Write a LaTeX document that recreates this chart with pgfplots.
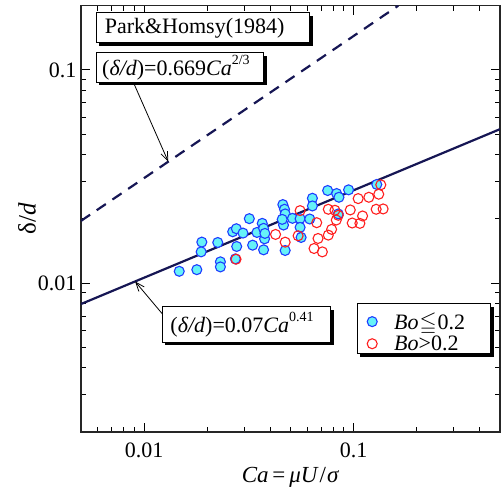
\documentclass[border=0pt]{standalone}
\usepackage{amssymb}
\usepackage{fontspec}
\setmainfont{Liberation Serif}
\usepackage{pgfplots}
\pgfplotsset{compat=1.18}
\usetikzlibrary{shadows,arrows.meta}

\definecolor{navyline}{RGB}{22,22,84}
\definecolor{cyanfill}{RGB}{102,242,248}
\definecolor{blueedge}{RGB}{30,60,255}
\definecolor{rededge}{RGB}{255,30,30}

\newcommand{\bigfont}{\fontsize{22bp}{26bp}\selectfont}
\newcommand{\labfont}{\fontsize{23bp}{27bp}\selectfont}
\newcommand{\supfont}{\fontsize{14bp}{16bp}\selectfont}

\tikzset{
  shadowbox/.style={draw=black, line width=1bp, fill=white,
    drop shadow={shadow xshift=3.2bp, shadow yshift=-3.2bp, fill=black, opacity=1},
    font=\bigfont, align=left, inner ysep=2bp}
}

\begin{document}
\begin{tikzpicture}
\begin{axis}[
  scale only axis, width=419bp, height=426.3bp,
  xmode=log, ymode=log,
  xmin=0.005, xmax=0.5, ymin=0.002, ymax=0.2,
  xtick={0.01,0.1}, xticklabels={0.01,0.1},
  ytick={0.01,0.1}, yticklabels={0.01,0.1},
  minor xtick={0.006,0.007,0.008,0.009,0.02,0.03,0.04,0.05,0.06,0.07,0.08,0.09,0.2,0.3,0.4},
  minor ytick={0.003,0.004,0.005,0.006,0.007,0.008,0.009,0.02,0.03,0.04,0.05,0.06,0.07,0.08,0.09},
  tick align=inside, major tick length=9bp, minor tick length=5bp,
  every tick/.style={line width=1bp, black},
  axis line style={line width=1.4bp, black!85},
  every tick label/.append style={font=\bigfont},
  xticklabel style={yshift=-7bp},
  yticklabel style={xshift=-1bp},
  xlabel={\textit{Ca}\,=\,\textit{μU}\kern1pt/\kern1pt\textit{σ}},
  ylabel={δ/\textit{d}},
  xlabel style={font=\labfont, at={(axis description cs:0.5,-0.106)}, anchor=center},
  ylabel style={font=\fontsize{25bp}{29bp}\selectfont, at={(axis description cs:-0.129,0.5)}, anchor=center},
  legend image code/.code={\draw[#1] plot coordinates {(0bp,0bp)};},
  legend style={at={(rel axis cs:0.6826,0.2853)}, anchor=north west,
    draw=none, fill=none, font=\bigfont, inner sep=0pt, row sep=1bp,
    column sep=0bp,
    /tikz/every odd column/.append style={column sep=15bp}},
  legend cell align=left,
]
% fitted correlation and Park & Homsy prediction
\addplot[navyline, line width=2.2bp, forget plot] coordinates {(0.005,0.00797) (0.5,0.0527)};
\addplot[navyline, line width=2.2bp, dash pattern=on 11bp off 8bp, forget plot]
  coordinates {(0.005,0.01957) (0.1635,0.2)};

% legend frame
\node[shadowbox, anchor=north west, minimum width=133.3bp, minimum height=50bp, inner sep=0pt]
  at (rel axis cs:0.658,0.3026) {};

% Bo <= 0.2
\addplot[only marks, mark=*, mark size=5bp,
  mark options={draw=blueedge, fill=cyanfill, line width=1.1bp}] coordinates {
(0.01472,0.01135) (0.01786,0.01155) (0.01887,0.01556) (0.01873,0.01400)
(0.02248,0.01549) (0.02314,0.01257) (0.02314,0.01190) (0.02649,0.01740)
(0.02758,0.01798) (0.02768,0.01484) (0.02728,0.01298) (0.02967,0.01715)
(0.03180,0.02004) (0.03298,0.01505) (0.03458,0.01727) (0.03666,0.01905)
(0.03720,0.01805) (0.03761,0.01612) (0.03720,0.01431) (0.03775,0.01709)
(0.04597,0.02333) (0.04682,0.02218) (0.04716,0.02109) (0.04631,0.01871)
(0.04564,0.01989) (0.05110,0.02011) (0.04716,0.01421) (0.05557,0.02004)
(0.05557,0.01824) (0.05618,0.01636) (0.06178,0.01997) (0.06361,0.02498)
(0.06361,0.02299) (0.07522,0.02716) (0.08302,0.02629) (0.08516,0.02525)
(0.09467,0.02736) (0.08453,0.02109) (0.1291,0.02900)
};
\addlegendentry{\textit{Bo}\kern1bp$\leqq$\kern1bp0.2}

% Bo > 0.2
\addplot[only marks, mark=o, mark size=5bp,
  mark options={draw=rededge, line width=1.1bp}] coordinates {
(0.02748,0.01293) (0.04243,0.01690) (0.04716,0.01555) (0.05437,0.01666)
(0.05557,0.02186) (0.06670,0.01919) (0.06478,0.01452) (0.06768,0.01618)
(0.07096,0.01400) (0.07577,0.01678) (0.07857,0.01785) (0.07577,0.02218)
(0.08149,0.02194) (0.08270,0.01975) (0.08453,0.02078) (0.09643,0.02202)
(0.09855,0.01912) (0.1052,0.02489) (0.1072,0.01905) (0.1104,0.02063)
(0.1183,0.02525) (0.1282,0.02218) (0.1319,0.02610) (0.1384,0.02226)
(0.1349,0.02889)
};
\addlegendentry{\textit{Bo}>0.2}

% annotation boxes
\node[shadowbox, anchor=north west, minimum height=30bp, inner xsep=8.6bp, text width=196.4bp]
  at (rel axis cs:0.0351,0.9845) {Park\&Homsy(1984)};
\node[shadowbox, anchor=north west, minimum height=29.4bp, inner xsep=6bp, text width=155.6bp]
  at (rel axis cs:0.0351,0.8907) {(\textit{δ/d})=0.669\textit{Ca}\raisebox{1.1ex}{\supfont 2/3}};
\node[shadowbox, anchor=north west, minimum height=35.7bp, inner xsep=8.3bp, text width=151.7bp]
  at (rel axis cs:0.1926,0.2956) {(\textit{δ/d})=0.07\textit{Ca}\raisebox{1.1ex}{\supfont 0.41}};

% arrows from the boxes to the curves
\draw[line width=0.8bp, -{Straight Barb[length=9bp,width=7bp]}]
  (axis cs:0.00890,0.0872) -- (axis cs:0.01305,0.03708);
\draw[line width=0.8bp, -{Straight Barb[length=9bp,width=7bp]}]
  (axis cs:0.01222,0.00717) -- (axis cs:0.00906,0.01017);
\end{axis}
\pgfresetboundingbox
\useasboundingbox ([shift={(-81bp,-58bp)}]current axis.south west)
  rectangle ([shift={(1bp,5.7bp)}]current axis.north east);
\end{tikzpicture}
\end{document}
